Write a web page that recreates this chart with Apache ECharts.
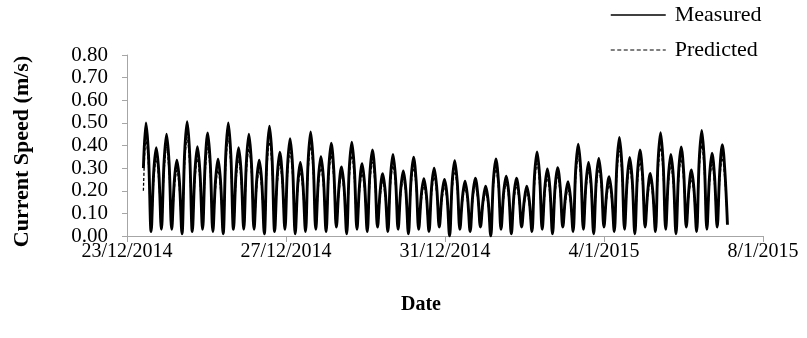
<!DOCTYPE html>
<html>
<head>
<meta charset="utf-8">
<script src="https://cdn.jsdelivr.net/npm/echarts@6/dist/echarts.min.js"></script>
<style>
html,body{margin:0;padding:0;background:#fff;}
#chart{width:807px;height:338px;}
</style>
</head>
<body>
<div id="chart"></div>
<script>
// x-axis tick labels (every 4 days from 23/12/2014)
const dateTickLabels = ['23/12/2014', '27/12/2014', '31/12/2014', '4/1/2015', '8/1/2015'];

// sampling of the record: first sample at 09:54 on 23/12/2014, one sample every ~1.55 h
const sampleStartHour = 9.9;
const sampleStepHours = 1.5535;

// Measured current speed (m/s): one tidal arch per ~6.2 h
const measuredStart = 0.30;
const measuredPeaks = [0.50,0.39,0.45,0.335,0.505,0.395,0.455,0.34,0.50,0.39,
  0.45,0.335,0.485,0.37,0.43,0.325,0.46,0.35,0.41,0.305,
  0.415,0.32,0.38,0.275,0.36,0.288,0.348,0.253,0.30,0.25,
  0.333,0.242,0.256,0.22,0.341,0.264,0.256,0.22,0.372,0.296,
  0.302,0.24,0.406,0.325,0.343,0.262,0.436,0.347,0.38,0.277,
  0.457,0.36,0.394,0.292,0.466,0.366,0.404];
const measuredShoulders = [0.355,0.28,0.32,0.24,0.36,0.28,0.32,0.24,0.355,0.28,
  0.32,0.24,0.345,0.26,0.305,0.23,0.325,0.25,0.29,0.215,
  0.295,0.225,0.27,0.195,0.255,0.205,0.245,0.18,0.215,0.18,
  0.235,0.17,0.18,0.155,0.24,0.19,0.18,0.155,0.265,0.21,
  0.215,0.17,0.29,0.23,0.245,0.185,0.31,0.245,0.27,0.195,
  0.325,0.255,0.28,0.205,0.33,0.26,0.285];
const measuredTroughs = [0.02,0.03,0.03,0.01,0.02,0.03,0.02,0.01,0.03,0.03,
  0.03,0.01,0.02,0.03,0.01,0.02,0.03,0.02,0.04,0.01,
  0.03,0.02,0.04,0.02,0.03,0.01,0.03,0.02,0.04,0.00,
  0.03,0.02,0.04,0.00,0.03,0.01,0.04,0.02,0.03,0.01,
  0.04,0.02,0.03,0.01,0.04,0.02,0.03,0.01,0.04,0.02,
  0.03,0.01,0.04,0.02,0.03,0.04,0.05];

// Predicted current speed (m/s)
const predictedStart = 0.20;
const predictedPeaks = [0.43,0.34,0.39,0.29,0.435,0.34,0.39,0.29,0.43,0.335,
  0.385,0.29,0.415,0.32,0.37,0.28,0.395,0.30,0.355,0.265,
  0.355,0.275,0.325,0.24,0.31,0.25,0.30,0.22,0.26,0.215,
  0.285,0.21,0.22,0.19,0.295,0.23,0.22,0.19,0.32,0.255,
  0.26,0.205,0.35,0.28,0.295,0.225,0.375,0.30,0.325,0.24,
  0.39,0.31,0.34,0.25,0.40,0.315,0.345];
const predictedShoulders = [0.305,0.24,0.275,0.205,0.31,0.24,0.275,0.205,0.305,0.24,
  0.275,0.205,0.295,0.225,0.265,0.20,0.28,0.215,0.25,0.19,
  0.25,0.195,0.23,0.17,0.22,0.18,0.215,0.155,0.185,0.155,
  0.20,0.15,0.155,0.135,0.21,0.165,0.155,0.135,0.225,0.18,
  0.185,0.145,0.25,0.20,0.21,0.16,0.265,0.215,0.23,0.17,
  0.275,0.22,0.24,0.18,0.285,0.225,0.245];
const predictedTroughs = [0.03,0.03,0.04,0.02,0.03,0.04,0.03,0.02,0.03,0.04,
  0.03,0.02,0.03,0.04,0.02,0.03,0.04,0.03,0.04,0.02,
  0.03,0.03,0.04,0.02,0.03,0.02,0.04,0.02,0.04,0.01,
  0.03,0.02,0.04,0.01,0.03,0.02,0.04,0.02,0.03,0.02,
  0.04,0.02,0.03,0.02,0.04,0.02,0.03,0.02,0.04,0.02,
  0.03,0.02,0.04,0.02,0.03,0.04,0.06];

function buildSeries(start, peaks, shoulders, troughs) {
  const values = [];
  for (let n = 0; n < peaks.length; n++) {
    values.push(n === 0 ? start : shoulders[n]);
    values.push(peaks[n]);
    values.push(shoulders[n]);
    values.push(troughs[n]);
  }
  return values.map((v, i) => [(sampleStartHour + i * sampleStepHours) / 24, v]);
}

const measuredData = buildSeries(measuredStart, measuredPeaks, measuredShoulders, measuredTroughs);
const predictedData = buildSeries(predictedStart, predictedPeaks, predictedShoulders, predictedTroughs);

const FONT = "'Liberation Serif', 'Times New Roman', serif";
const chart = echarts.init(document.getElementById('chart'), null, {renderer: 'canvas'});
chart.setOption({
  animation: false,
  backgroundColor: '#ffffff',
  color: ['#000000', '#000000'],
  grid: {left: 127, right: 44, top: 55, bottom: 102, containLabel: false, outerBoundsMode: 'none'},
  legend: {
    orient: 'vertical',
    left: 610,
    top: 4,
    padding: 0,
    itemWidth: 55,
    itemHeight: 14,
    itemGap: 13,
    textStyle: {fontFamily: FONT, fontSize: 22, color: '#000', padding: [0, 0, 0, 4]},
    data: [
      {name: 'Measured', itemStyle: {opacity: 0}, lineStyle: {color: '#000', width: 1.5, type: 'solid'}},
      {name: 'Predicted', itemStyle: {opacity: 0}, lineStyle: {color: '#000', width: 1.2, type: [4, 2.5]}}
    ]
  },
  xAxis: {
    type: 'value',
    min: 0, max: 16, interval: 4,
    name: 'Date',
    nameLocation: 'middle',
    nameGap: 59,
    nameTextStyle: {fontFamily: FONT, fontSize: 20, fontWeight: 'bold', color: '#000', padding: [0, 48, 0, 0]},
    axisLine: {lineStyle: {color: '#a6a6a6', width: 1}},
    axisTick: {show: true, inside: false, length: 6, lineStyle: {color: '#a6a6a6'}},
    axisLabel: {
      fontFamily: FONT, fontSize: 20, color: '#000', margin: 6,
      formatter: v => dateTickLabels[Math.round(v / 4)] || ''
    },
    splitLine: {show: false}
  },
  yAxis: {
    type: 'value',
    min: 0, max: 0.8, interval: 0.1,
    name: 'Current Speed (m/s)',
    nameLocation: 'middle',
    nameRotate: 90,
    nameGap: 94,
    nameTextStyle: {fontFamily: FONT, fontSize: 22, fontWeight: 'bold', color: '#000', padding: [0, 12, 0, 0]},
    axisLine: {show: true, lineStyle: {color: '#a6a6a6', width: 1}},
    axisTick: {show: true, inside: false, length: 5, lineStyle: {color: '#a6a6a6'}},
    axisLabel: {fontFamily: FONT, fontSize: 21, color: '#000', margin: 19, formatter: v => v.toFixed(2)},
    splitLine: {show: false}
  },
  series: [
    {
      name: 'Measured', type: 'line', data: measuredData, symbol: 'none', smooth: 0.35,
      itemStyle: {color: '#000'},
      lineStyle: {color: '#000', width: 2.9, type: 'solid'}, z: 2
    },
    {
      name: 'Predicted', type: 'line', data: predictedData, symbol: 'none', smooth: 0.35,
      itemStyle: {color: '#000'},
      lineStyle: {color: '#000', width: 1.3, type: [3, 2]}, z: 3
    }
  ]
});
</script>
</body>
</html>
